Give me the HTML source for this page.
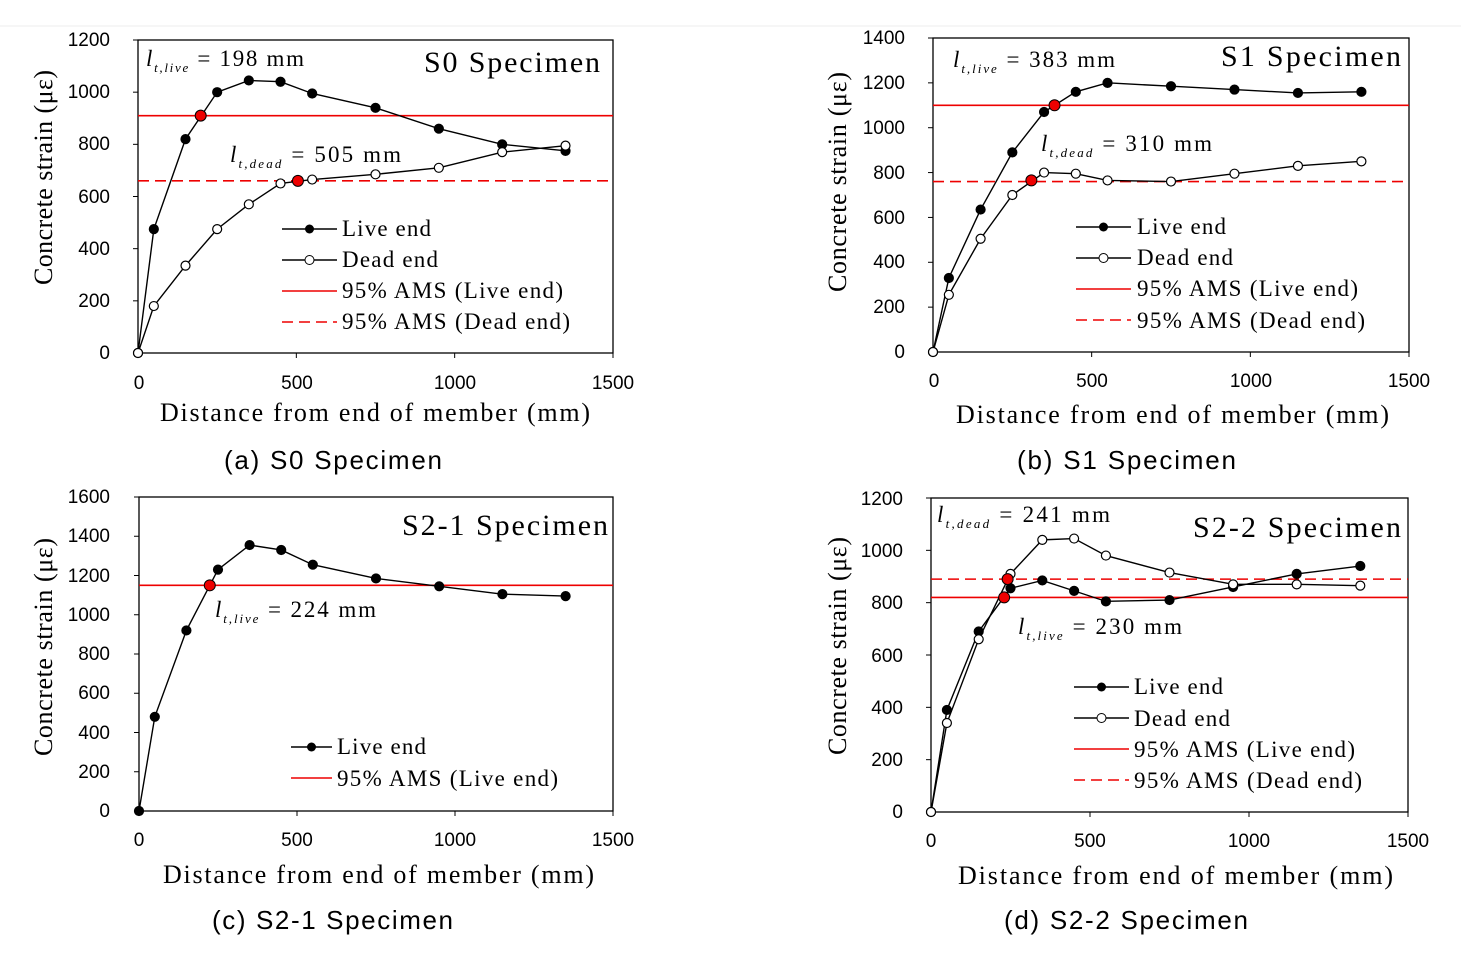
<!DOCTYPE html>
<html><head><meta charset="utf-8"><style>
body{margin:0;background:#fff;}
svg{display:block}
.t{font-family:"Liberation Serif",serif;fill:#000}
.s{font-family:"Liberation Sans",sans-serif;fill:#000}
.c{font-family:"Liberation Sans",sans-serif;fill:#000;font-size:26px}
</style></head><body>
<svg id="s" width="1461" height="959" xmlns="http://www.w3.org/2000/svg">
<rect width="1461" height="959" fill="#fff"/>
<line x1="0" y1="26" x2="1461" y2="26" stroke="#eee"/>
<g class="s" font-size="19" text-anchor="end">
<text x="110" y="46">1200</text><text x="110" y="98">1000</text><text x="110" y="150">800</text><text x="110" y="203">600</text><text x="110" y="255">400</text><text x="110" y="307">200</text><text x="110" y="359">0</text>
<text x="905" y="44">1400</text><text x="905" y="89">1200</text><text x="905" y="134">1000</text><text x="905" y="179">800</text><text x="905" y="224">600</text><text x="905" y="268">400</text><text x="905" y="313">200</text><text x="905" y="358">0</text>
<text x="110" y="503">1600</text><text x="110" y="542">1400</text><text x="110" y="582">1200</text><text x="110" y="621">1000</text><text x="110" y="660">800</text><text x="110" y="699">600</text><text x="110" y="739">400</text><text x="110" y="778">200</text><text x="110" y="817">0</text>
<text x="903" y="505">1200</text><text x="903" y="557">1000</text><text x="903" y="609">800</text><text x="903" y="662">600</text><text x="903" y="714">400</text><text x="903" y="766">200</text><text x="903" y="818">0</text>
</g>
<g class="s" font-size="19" text-anchor="middle">
<text x="139" y="389">0</text><text x="297" y="389">500</text><text x="455" y="389">1000</text><text x="613" y="389">1500</text>
<text x="934" y="387">0</text><text x="1092" y="387">500</text><text x="1251" y="387">1000</text><text x="1409" y="387">1500</text>
<text x="139" y="846">0</text><text x="297" y="846">500</text><text x="455" y="846">1000</text><text x="613" y="846">1500</text>
<text x="931" y="847">0</text><text x="1090" y="847">500</text><text x="1249" y="847">1000</text><text x="1408" y="847">1500</text>
</g>
<g class="t" font-size="26">
<text x="160" y="421" textLength="430" lengthAdjust="spacing">Distance from end of member (mm)</text>
<text x="956" y="423" textLength="433" lengthAdjust="spacing">Distance from end of member (mm)</text>
<text x="163" y="883" textLength="431" lengthAdjust="spacing">Distance from end of member (mm)</text>
<text x="958" y="884" textLength="435" lengthAdjust="spacing">Distance from end of member (mm)</text>
<text transform="translate(52,285) rotate(-90)" textLength="215" lengthAdjust="spacing">Concrete strain (με)</text>
<text transform="translate(846,292) rotate(-90)" textLength="220" lengthAdjust="spacing">Concrete strain (με)</text>
<text transform="translate(52,756) rotate(-90)" textLength="218" lengthAdjust="spacing">Concrete strain (με)</text>
<text transform="translate(846,755) rotate(-90)" textLength="218" lengthAdjust="spacing">Concrete strain (με)</text>
</g>
<g class="c">
<text x="224" y="469" textLength="218" lengthAdjust="spacing">(a)  S0  Specimen</text>
<text x="1017" y="469" textLength="219" lengthAdjust="spacing">(b)  S1  Specimen</text>
<text x="212" y="929" textLength="241" lengthAdjust="spacing">(c)  S2-1  Specimen</text>
<text x="1004" y="929" textLength="244" lengthAdjust="spacing">(d)  S2-2  Specimen</text>
</g>
<g class="t" font-size="30">
<text x="424" y="72" textLength="176" lengthAdjust="spacing">S0 Specimen</text>
<text x="1221" y="66" textLength="180" lengthAdjust="spacing">S1 Specimen</text>
<text x="402" y="535" textLength="206" lengthAdjust="spacing">S2-1 Specimen</text>
<text x="1193" y="537" textLength="208" lengthAdjust="spacing">S2-2 Specimen</text>
</g>
<g class="t" font-size="23">
<text x="146" y="66" textLength="158" lengthAdjust="spacing"><tspan font-style="italic">l</tspan><tspan font-size="13" font-style="italic" dy="6">t,live</tspan><tspan dy="-6"> = 198 mm</tspan></text>
<text x="230" y="162" textLength="171" lengthAdjust="spacing"><tspan font-style="italic">l</tspan><tspan font-size="13" font-style="italic" dy="6">t,dead</tspan><tspan dy="-6"> = 505 mm</tspan></text>
<text x="953" y="67" textLength="162" lengthAdjust="spacing"><tspan font-style="italic">l</tspan><tspan font-size="13" font-style="italic" dy="6">t,live</tspan><tspan dy="-6"> = 383 mm</tspan></text>
<text x="1041" y="151" textLength="171" lengthAdjust="spacing"><tspan font-style="italic">l</tspan><tspan font-size="13" font-style="italic" dy="6">t,dead</tspan><tspan dy="-6"> = 310 mm</tspan></text>
<text x="215" y="617" textLength="161" lengthAdjust="spacing"><tspan font-style="italic">l</tspan><tspan font-size="13" font-style="italic" dy="6">t,live</tspan><tspan dy="-6"> = 224 mm</tspan></text>
<text x="937" y="522" textLength="173" lengthAdjust="spacing"><tspan font-style="italic">l</tspan><tspan font-size="13" font-style="italic" dy="6">t,dead</tspan><tspan dy="-6"> = 241 mm</tspan></text>
<text x="1018" y="634" textLength="164" lengthAdjust="spacing"><tspan font-style="italic">l</tspan><tspan font-size="13" font-style="italic" dy="6">t,live</tspan><tspan dy="-6"> = 230 mm</tspan></text>
<text x="342" y="236" textLength="89">Live end</text><text x="342" y="267" textLength="96">Dead end</text><text x="342" y="298" textLength="221">95% AMS (Live end)</text><text x="342" y="329" textLength="228">95% AMS (Dead end)</text>
<text x="1137" y="234" textLength="89">Live end</text><text x="1137" y="265" textLength="96">Dead end</text><text x="1137" y="296" textLength="221">95% AMS (Live end)</text><text x="1137" y="328" textLength="228">95% AMS (Dead end)</text>
<text x="337" y="754" textLength="89">Live end</text><text x="337" y="786" textLength="221">95% AMS (Live end)</text>
<text x="1134" y="694" textLength="89">Live end</text><text x="1134" y="726" textLength="96">Dead end</text><text x="1134" y="757" textLength="221">95% AMS (Live end)</text><text x="1134" y="788" textLength="228">95% AMS (Dead end)</text>
</g>
<g id="g"></g>
</svg>
<script>
var NS="http://www.w3.org/2000/svg",g=document.getElementById('g');
function el(n,a){var e=document.createElementNS(NS,n);for(var k in a)e.setAttribute(k,a[k]);g.appendChild(e);return e;}
var xs=[0,50,150,250,350,450,550,750,950,1150,1350];
function panel(P){
 var X=v=>P.x0+(P.x1-P.x0)*v/1500, Y=v=>P.y0-(P.y0-P.y1)*v/P.ym;
 el('rect',{x:P.x0,y:P.y1,width:P.x1-P.x0,height:P.y0-P.y1,fill:'none',stroke:'#000','stroke-width':1.3});
 for(var i=0;i<=P.n;i++){var y=P.y0-(P.y0-P.y1)*i/P.n;el('line',{x1:P.x0-5,x2:P.x0,y1:y,y2:y,stroke:'#000'});}
 for(var i=0;i<=3;i++){var x=P.x0+(P.x1-P.x0)*i/3;el('line',{x1:x,x2:x,y1:P.y0,y2:P.y0+5,stroke:'#000'});}
 if(P.rl)el('line',{x1:P.x0,x2:P.x1,y1:Y(P.rl),y2:Y(P.rl),stroke:'#e00','stroke-width':1.6});
 if(P.rd)el('line',{x1:P.x0,x2:P.x1,y1:Y(P.rd),y2:Y(P.rd),stroke:'#e00','stroke-width':1.6,'stroke-dasharray':'11,6'});
 [[P.live,'#000'],[P.dead,'#fff']].forEach(function(s){ if(!s[0])return;
  el('polyline',{points:s[0].map((v,i)=>X(xs[i])+','+Y(v)).join(' '),fill:'none',stroke:'#000','stroke-width':1.4});
  s[0].forEach((v,i)=>el('circle',{cx:X(xs[i]),cy:Y(v),r:4.5,fill:s[1],stroke:'#000','stroke-width':1.2}));});
 P.red.forEach(p=>el('circle',{cx:X(p[0]),cy:Y(p[1]),r:5.5,fill:'#e00',stroke:'#000','stroke-width':1}));
 var L=P.leg,y=L[1],w=L[3]||55;
 if(P.live){el('line',{x1:L[0],x2:L[0]+w,y1:y,y2:y,stroke:'#000','stroke-width':1.4});el('circle',{cx:L[0]+w/2,cy:y,r:4.5,fill:'#000'});y+=L[2];}
 if(P.dead){el('line',{x1:L[0],x2:L[0]+w,y1:y,y2:y,stroke:'#000','stroke-width':1.4});el('circle',{cx:L[0]+w/2,cy:y,r:4.5,fill:'#fff',stroke:'#000'});y+=L[2];}
 el('line',{x1:L[0],x2:L[0]+w,y1:y,y2:y,stroke:'#e00','stroke-width':1.6});y+=L[2];
 if(P.rd)el('line',{x1:L[0],x2:L[0]+w,y1:y,y2:y,stroke:'#e00','stroke-width':1.6,'stroke-dasharray':'11,6'});
}
panel({x0:138,x1:613,y0:353,y1:40,ym:1200,n:6,rl:910,rd:660,
 live:[0,475,820,1000,1045,1040,995,940,860,800,775],
 dead:[0,180,335,475,570,650,665,685,710,770,795],red:[[198,910],[505,660]],leg:[282,229,31,55]});
panel({x0:933,x1:1409,y0:352,y1:38,ym:1400,n:7,rl:1100,rd:760,
 live:[0,330,635,890,1070,1160,1200,1185,1170,1155,1160],
 dead:[0,255,505,700,800,795,765,760,795,830,850],red:[[383,1100],[310,765]],leg:[1076,227,31,55]});
panel({x0:139,x1:613,y0:811,y1:497,ym:1600,n:8,rl:1150,
 live:[0,480,920,1230,1355,1330,1255,1185,1145,1105,1095],red:[[224,1150]],leg:[291,747,31,41]});
panel({x0:931,x1:1408,y0:812,y1:498,ym:1200,n:6,rl:820,rd:890,
 live:[0,390,690,855,885,845,805,810,860,910,940],
 dead:[0,340,660,910,1040,1045,980,915,870,870,865],red:[[230,820],[241,890]],leg:[1074,687,31,55]});
</script>
</body></html>
